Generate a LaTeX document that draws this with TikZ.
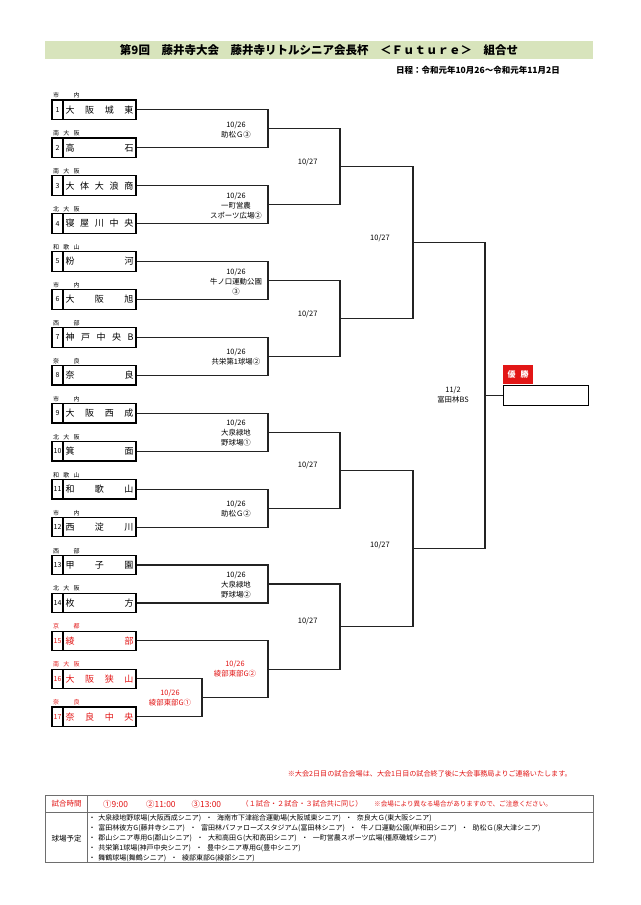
\documentclass[tikz,border=0pt]{standalone}
\usepackage{fontspec}
\setmainfont{Noto Sans CJK JP}
\usetikzlibrary{calc}
\definecolor{myred}{RGB}{226,22,22}
\definecolor{bandgreen}{RGB}{216,228,188}
\definecolor{lin}{RGB}{35,35,35}
\definecolor{tgray}{RGB}{110,110,110}
\newcommand\teambox[5]{%
  \node[numbox,text=#5] (n#1) at (57.5,#2) {#1};
  \node[namebox,text=#5] (t#1) at (99.5,#2) {\makebox[68pt][s]{#4}};
  \node[region,text=#5] (g#1) at (53,#2-14.3) {\makebox[26.5pt][s]{#3}};
}
\newcommand\dsep{\hspace{4.5pt}・\hspace{4.5pt}}
\begin{document}
\begin{tikzpicture}[x=1pt,y=-1pt,
  numbox/.style={draw=black,line width=1.2pt,minimum width=11pt,minimum height=19.5pt,inner sep=0pt,font=\fontsize{7}{8}\selectfont},
  namebox/.style={draw=black,line width=1.2pt,minimum width=73pt,minimum height=19.5pt,inner sep=0pt,font=\fontsize{9}{10}\selectfont},
  region/.style={anchor=west,inner sep=0pt,font=\fontsize{6}{7}\selectfont},
  bline/.style={draw=lin,line width=1.1pt},
  mlabel/.style={align=center,inner sep=0pt,font=\fontsize{7.4}{10}\selectfont},
  rlabel/.style={inner sep=0pt,font=\fontsize{7.5}{9}\selectfont},
  tline/.style={draw=tgray,line width=0.8pt},
  ttext/.style={inner sep=0pt,anchor=west,font=\fontsize{7}{8}\selectfont}]
\useasboundingbox (0,0) rectangle (640,905);
\fill[white] (0,0) rectangle (640,905);

% title
\node[fill=bandgreen,minimum width=548pt,minimum height=18pt,inner sep=0pt,
      font=\bfseries\fontsize{11.5}{12}\selectfont] (title) at (319,50)
  {第9回　藤井寺大会　藤井寺リトルシニア会長杯　＜Ｆｕｔｕｒｅ＞　組合せ};
\node[anchor=east,inner sep=0pt,font=\bfseries\fontsize{8.5}{9}\selectfont] (date) at (560,70.5)
  {日程：令和元年10月26～令和元年11月2日};

% teams
\teambox{1}{109.75}{市\hfill 内}{大\hfill 阪\hfill 城\hfill 東}{black}
\teambox{2}{147.69}{南\hfill 大\hfill 阪}{高\hfill 石}{black}
\teambox{3}{185.63}{南\hfill 大\hfill 阪}{大\hfill 体\hfill 大\hfill 浪\hfill 商}{black}
\teambox{4}{223.57}{北\hfill 大\hfill 阪}{寝\hfill 屋\hfill 川\hfill 中\hfill 央}{black}
\teambox{5}{261.51}{和\hfill 歌\hfill 山}{粉\hfill 河}{black}
\teambox{6}{299.45}{市\hfill 内}{大\hfill 阪\hfill 旭}{black}
\teambox{7}{337.39}{西\hfill 部}{神\hfill 戸\hfill 中\hfill 央\hfill B}{black}
\teambox{8}{375.33}{奈\hfill 良}{奈\hfill 良}{black}
\teambox{9}{413.27}{市\hfill 内}{大\hfill 阪\hfill 西\hfill 成}{black}
\teambox{10}{451.21}{北\hfill 大\hfill 阪}{箕\hfill 面}{black}
\teambox{11}{489.15}{和\hfill 歌\hfill 山}{和\hfill 歌\hfill 山}{black}
\teambox{12}{527.09}{市\hfill 内}{西\hfill 淀\hfill 川}{black}
\teambox{13}{565.03}{西\hfill 部}{甲\hfill 子\hfill 園}{black}
\teambox{14}{602.97}{北\hfill 大\hfill 阪}{枚\hfill 方}{black}
\teambox{15}{640.91}{京\hfill 都}{綾\hfill 部}{myred}
\teambox{16}{678.85}{南\hfill 大\hfill 阪}{大\hfill 阪\hfill 狭\hfill 山}{myred}
\teambox{17}{716.79}{奈\hfill 良}{奈\hfill 良\hfill 中\hfill 央}{myred}

% match points
\coordinate (a1) at (268,128.72);
\coordinate (a2) at (268,204.60);
\coordinate (a3) at (268,280.48);
\coordinate (a4) at (268,356.36);
\coordinate (a5) at (268,432.24);
\coordinate (a6) at (268,508.12);
\coordinate (a7) at (268,584.00);
\coordinate (q)  at (202,697.82);
\coordinate (a8) at (268,669.37);
\coordinate (b1) at (340,166.66);
\coordinate (b2) at (340,318.42);
\coordinate (b3) at (340,470.18);
\coordinate (b4) at (340,626.68);
\coordinate (c1) at (413,242.54);
\coordinate (c2) at (413,548.43);
\coordinate (d1) at (485,395.49);

% champion
\node[draw=black,line width=1.2pt,minimum width=85pt,minimum height=19.5pt,inner sep=0pt,anchor=west] (champ) at (503,395.49) {};
\node[fill=myred,text=white,minimum width=30pt,minimum height=19pt,inner sep=0pt,anchor=south west,
      font=\bfseries\fontsize{8}{9}\selectfont] (yusho) at ([yshift=0.6pt]champ.north west) {優\hspace{5pt}勝};

% bracket lines
\draw[bline] (t1.east) -| (a1) |- (t2.east);
\draw[bline] (t3.east) -| (a2) |- (t4.east);
\draw[bline] (t5.east) -| (a3) |- (t6.east);
\draw[bline] (t7.east) -| (a4) |- (t8.east);
\draw[bline] (t9.east) -| (a5) |- (t10.east);
\draw[bline] (t11.east) -| (a6) |- (t12.east);
\draw[bline] (t13.east) -| (a7) |- (t14.east);
\draw[bline] (t16.east) -| (q) |- (t17.east);
\draw[bline] (t15.east) -| (a8) |- (q);
\draw[bline] (a1) -| (b1) |- (a2);
\draw[bline] (a3) -| (b2) |- (a4);
\draw[bline] (a5) -| (b3) |- (a6);
\draw[bline] (a7) -| (b4) |- (a8);
\draw[bline] (b1) -| (c1) |- (b2);
\draw[bline] (b3) -| (c2) |- (b4);
\draw[bline] (c1) -| (d1) |- (c2);
\draw[bline] (d1) -- (champ.west);

% match labels
\node[mlabel] (l1) at (236,130) {10/26\\助松Ｇ③};
\node[mlabel] (l2) at (236,205.5) {10/26\\一町営農\\スポーツ広場②};
\node[mlabel] (l3) at (236,281.5) {10/26\\牛ノ口運動公園\\③};
\node[mlabel] (l4) at (236,357) {10/26\\共栄第1球場②};
\node[mlabel] (l5) at (236,433) {10/26\\大泉緑地\\野球場①};
\node[mlabel] (l6) at (236,508.5) {10/26\\助松Ｇ②};
\node[mlabel] (l7) at (236,584.5) {10/26\\大泉緑地\\野球場②};
\node[mlabel,text=myred] (l8) at (235,669) {10/26\\綾部東部G②};
\node[mlabel,text=myred] (l9) at (170,697.5) {10/26\\綾部東部G①};
\node[rlabel] (k1) at (307.7,162.3) {10/27};
\node[rlabel] (k2) at (307.7,314) {10/27};
\node[rlabel] (k3) at (307.7,465.5) {10/27};
\node[rlabel] (k4) at (307.7,621.5) {10/27};
\node[rlabel] (k5) at (380,238.3) {10/27};
\node[rlabel] (k6) at (380,545) {10/27};
\node[mlabel] (kf) at (453,394.5) {11/2\\富田林BS};

% note
\node[anchor=east,inner sep=0pt,text=myred,font=\fontsize{7.1}{8}\selectfont] (note) at (572,774)
  {※大会2日目の試合会場は、大会1日目の試合終了後に大会事務局よりご連絡いたします。};

% table
\draw[tline] (45,795) rectangle (593,862.7);
\draw[tline] (45,812.7) -- (593,812.7);
\draw[tline] (87.7,795) -- (87.7,862.7);
\node[inner sep=0pt,text=myred,font=\fontsize{7.5}{8}\selectfont] (h1) at (66.5,804) {試合時間};
\node[inner sep=0pt,font=\fontsize{7.5}{8}\selectfont] (h2) at (66.5,838.7) {球場予定};
\node[ttext,text=myred,font=\fontsize{8.4}{9}\selectfont] (s1) at (103,804) {①9:00};
\node[ttext,text=myred,font=\fontsize{8.4}{9}\selectfont] (s2) at (146,804) {②11:00};
\node[ttext,text=myred,font=\fontsize{8.4}{9}\selectfont] (s3) at (191.5,804) {③13:00};
\node[ttext,text=myred,font=\fontsize{7.1}{8}\selectfont] (s4) at (241.5,804) {（１試合・２試合・３試合共に同じ）};
\node[ttext,text=myred,font=\fontsize{6.6}{8}\selectfont] (s5) at (374,804) {※会場により異なる場合がありますので、ご注意ください。};
\node[ttext] (v1) at (88.3,818.5) {・\hspace{3pt}大泉緑地野球場(大阪西成シニア)\dsep 海南市下津総合運動場(大阪城東シニア)\dsep 奈良大Ｇ(東大阪シニア)};
\node[ttext] (v2) at (88.3,828.6) {・\hspace{3pt}富田林彼方G(藤井寺シニア)\dsep 富田林バファローズスタジアム(富田林シニア)\dsep 牛ノ口運動公園(岸和田シニア)\dsep 助松Ｇ(泉大津シニア)};
\node[ttext] (v3) at (88.3,838.7) {・\hspace{3pt}郡山シニア専用G(郡山シニア)\dsep 大和高田Ｇ(大和高田シニア)\dsep 一町営農スポーツ広場(橿原磯城シニア)};
\node[ttext] (v4) at (88.3,848.7) {・\hspace{3pt}共栄第1球場(神戸中央シニア)\dsep 豊中シニア専用G(豊中シニア)};
\node[ttext] (v5) at (88.3,858.5) {・\hspace{3pt}舞鶴球場(舞鶴シニア)\dsep 綾部東部G(綾部シニア)};
\end{tikzpicture}
\end{document}
